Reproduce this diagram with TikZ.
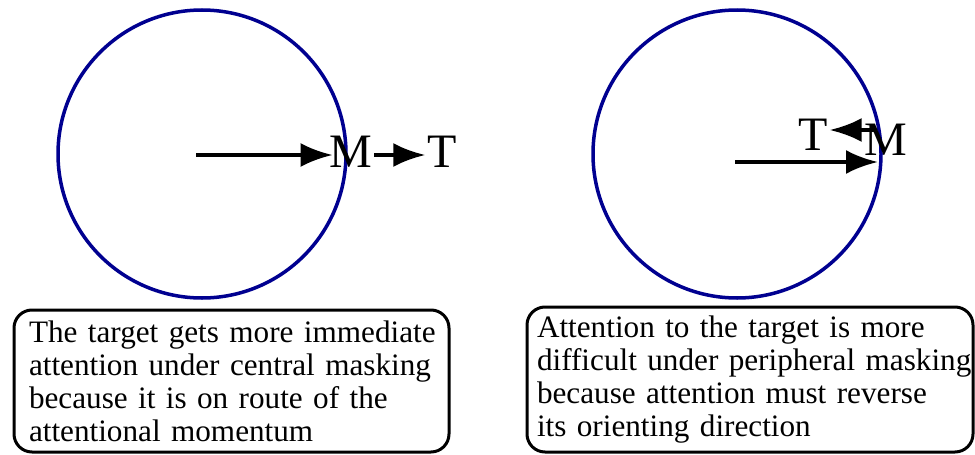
\documentclass[tikz,border=0pt]{standalone}
\usepackage{fontspec}
\setmainfont{Liberation Serif}
\usetikzlibrary{arrows.meta}
\definecolor{ringblue}{HTML}{000090}

\tikzset{
  ring/.style={circle, draw=ringblue, line width=3.5pt, minimum size=288pt, inner sep=0pt},
  letter/.style={font=\fontsize{48}{50}\selectfont, inner sep=0pt},
  note/.style={draw, line width=3pt, rounded corners=18pt, align=left, inner ysep=4pt,
    font=\fontsize{31.2}{33}\selectfont},
}

\begin{document}
\begin{tikzpicture}[x=1pt, y=-1pt, line width=4pt, >={Latex[length=32pt, width=24pt]}]
  \useasboundingbox (0,0) rectangle (975,455);
  % circles
  \node[ring] (lring) at (202,154) {};
  \node[ring] (rring) at (737,154) {};
  % central masking
  \node[letter] (M1) at (351,152) {M};
  \node[letter] (T1) at (442,152) {T};
  \coordinate (ls) at (196,155);
  \draw[->] (ls) -- ([xshift=5pt]M1.west |- ls);
  \draw[->] (M1.east |- ls) -- (T1.west |- ls);
  % peripheral masking
  \node[letter] (T2) at (813,135) {T};
  \node[letter] (M2) at (886,140) {M};
  \coordinate (rs) at (735,162);
  \coordinate (re) at (878,162);
  \draw[->] (rs) -- (re);
  \draw[->] ([xshift=12pt, yshift=10pt]M2.west) -- ([yshift=10pt]M2.west -| T2.east);
  % notes
  \node[note, minimum width=435pt, minimum height=142pt, text width=405pt, inner xsep=15pt]
    (lnote) at (231.5,381) {\mbox{The target gets more immediate}\\
    \mbox{attention under central masking}\\
    \mbox{because it is on route of the}\\
    \mbox{attentional momentum}};
  \node[note, minimum width=446pt, minimum height=145pt, text width=426pt, inner xsep=10pt]
    (rnote) at (750,379.5) {\mbox{Attention to the target is more}\\
    \mbox{difficult under peripheral masking}\\
    \mbox{because attention must reverse}\\
    \mbox{its orienting direction}};
\end{tikzpicture}
\end{document}
